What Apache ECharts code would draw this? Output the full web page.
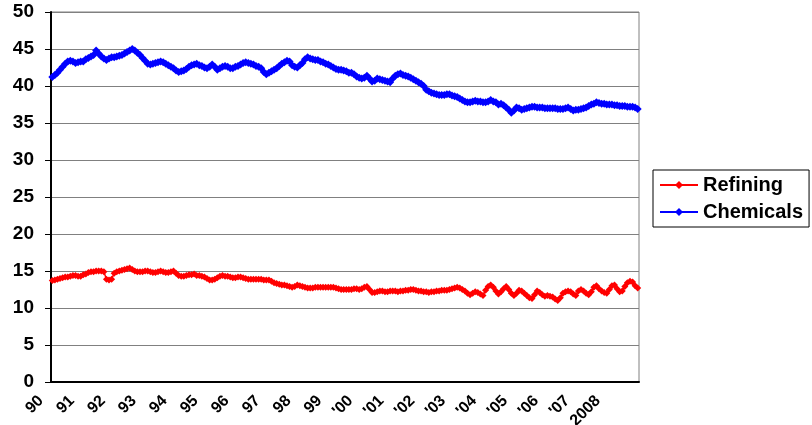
<!DOCTYPE html>
<html>
<head>
<meta charset="utf-8">
<script src="https://cdn.jsdelivr.net/npm/echarts@6/dist/echarts.min.js"></script>
<style>
html,body{margin:0;padding:0;background:#fff;}
#chart{width:812px;height:425px;}
</style>
</head>
<body>
<div id="chart"></div>
<script>
// Monthly observations, Jan 1990 .. Dec 2008
const yearLabels = ['90','91','92','93','94','95','96','97','98','99',"'00","'01","'02","'03","'04","'05","'06","'07",'2008'];

const refining = [
  13.7,13.8,13.9,14.0,14.1,14.2,14.2,14.3,14.4,14.4,14.3,14.3,
  14.5,14.6,14.8,14.9,14.9,15.0,15.0,15.0,14.9,13.9,13.8,13.9,
  14.7,14.9,15.0,15.1,15.2,15.3,15.4,15.2,15.0,14.9,14.9,14.9,
  15.0,15.0,14.9,14.8,14.8,14.9,15.0,14.9,14.8,14.8,14.9,15.0,
  14.7,14.4,14.3,14.3,14.4,14.5,14.5,14.6,14.4,14.4,14.3,14.2,
  14.0,13.8,13.8,13.9,14.1,14.3,14.4,14.3,14.3,14.2,14.1,14.1,
  14.2,14.2,14.1,14.0,13.9,13.9,13.9,13.9,13.9,13.9,13.8,13.8,
  13.8,13.6,13.4,13.3,13.2,13.1,13.1,13.0,12.9,12.8,12.9,13.1,
  13.0,12.9,12.8,12.7,12.7,12.7,12.8,12.8,12.8,12.8,12.8,12.8,
  12.8,12.8,12.7,12.6,12.5,12.5,12.5,12.5,12.5,12.6,12.6,12.5,
  12.6,12.8,12.9,12.5,12.1,12.1,12.2,12.3,12.3,12.2,12.2,12.3,
  12.3,12.3,12.2,12.3,12.3,12.4,12.4,12.5,12.5,12.4,12.3,12.3,
  12.2,12.2,12.1,12.2,12.2,12.3,12.3,12.4,12.4,12.4,12.5,12.6,
  12.7,12.8,12.7,12.5,12.3,12.0,11.8,12.0,12.2,12.1,11.9,11.7,
  12.4,12.9,13.1,12.8,12.3,11.9,12.2,12.6,12.9,12.5,12.0,11.7,
  12.0,12.4,12.3,12.0,11.7,11.4,11.3,11.8,12.3,12.1,11.8,11.6,
  11.7,11.6,11.5,11.2,11.0,11.4,12.0,12.2,12.3,12.2,11.9,11.7,
  12.3,12.5,12.3,12.0,11.8,12.2,12.8,13.0,12.6,12.3,12.1,12.0,
  12.5,13.0,13.1,12.6,12.2,12.3,12.9,13.4,13.6,13.5,13.0,12.7
];

const chemicals = [
  41.2,41.5,41.8,42.2,42.6,43.0,43.3,43.4,43.3,43.1,43.2,43.3,
  43.3,43.6,43.8,44.0,44.2,44.8,44.4,44.0,43.7,43.5,43.7,43.9,
  43.9,44.0,44.1,44.2,44.4,44.6,44.8,45.0,44.8,44.5,44.2,43.8,
  43.4,43.0,42.9,43.0,43.1,43.2,43.3,43.2,43.0,42.8,42.6,42.4,
  42.1,41.9,42.0,42.1,42.3,42.6,42.8,42.9,43.0,42.8,42.7,42.5,
  42.4,42.6,42.9,42.6,42.2,42.4,42.6,42.7,42.6,42.4,42.4,42.6,
  42.7,42.9,43.1,43.2,43.1,43.0,42.9,42.7,42.6,42.4,41.9,41.6,
  41.8,42.0,42.2,42.4,42.7,43.0,43.2,43.4,43.3,42.8,42.6,42.5,
  42.8,43.1,43.6,43.9,43.7,43.6,43.5,43.5,43.3,43.2,43.0,42.9,
  42.7,42.5,42.3,42.2,42.2,42.1,42.0,41.8,41.8,41.6,41.3,41.1,
  41.0,41.1,41.4,41.0,40.6,40.7,41.0,40.9,40.8,40.7,40.6,40.5,
  41.0,41.4,41.6,41.7,41.5,41.4,41.3,41.1,40.9,40.7,40.5,40.3,
  40.0,39.5,39.3,39.1,39.0,38.9,38.8,38.8,38.8,38.9,38.9,38.7,
  38.6,38.5,38.3,38.1,37.9,37.8,37.8,37.9,38.0,37.9,37.9,37.8,
  37.8,37.9,38.1,37.9,37.8,37.5,37.6,37.4,37.1,36.8,36.4,36.7,
  37.1,37.0,36.8,36.9,37.0,37.1,37.2,37.2,37.1,37.1,37.1,37.0,
  37.0,37.0,37.0,37.0,36.9,36.9,36.9,37.0,37.1,36.9,36.7,36.8,
  36.8,36.9,37.0,37.1,37.3,37.5,37.6,37.8,37.7,37.6,37.6,37.5,
  37.5,37.5,37.4,37.4,37.3,37.3,37.3,37.2,37.2,37.2,37.1,36.9
];

const months = [];
for (let y = 0; y < yearLabels.length; y++) {
  for (let m = 1; m <= 12; m++) months.push((1990 + y) + '-' + (m < 10 ? '0' + m : m));
}

const FONT = 'Arial, "Liberation Sans", sans-serif';
const chart = echarts.init(document.getElementById('chart'));
chart.setOption({
  animation: false,
  backgroundColor: '#ffffff',
  grid: { left: 51, right: 173, top: 12, bottom: 43, show: true, borderColor: '#808080', borderWidth: 1,
          containLabel: false, outerBoundsMode: 'none' },
  legend: {
    orient: 'vertical',
    left: 653, top: 170,
    borderColor: '#000', borderWidth: 1,
    padding: [5, 6, 5, 6],
    itemGap: 7,
    itemWidth: 38, itemHeight: 10,
    textStyle: { fontFamily: FONT, fontWeight: 'bold', fontSize: 20, color: '#000' },
    data: ['Refining', 'Chemicals']
  },
  xAxis: {
    type: 'category',
    data: months,
    boundaryGap: true,
    axisLine: { lineStyle: { color: '#000', width: 2 } },
    axisTick: { interval: 0, length: 4, lineStyle: { color: '#000', width: 1 } },
    axisLabel: {
      interval: 11, rotate: 45, margin: 5, padding: [0, 16, 0, 0],
      fontFamily: FONT, fontWeight: 'bold', fontSize: 16, color: '#000',
      formatter: function (v, i) { return yearLabels[Math.floor(i / 12)]; }
    },
    splitLine: { show: false }
  },
  yAxis: {
    type: 'value', min: 0, max: 50, interval: 5,
    axisLine: { show: true, lineStyle: { color: '#000', width: 2 } },
    axisTick: { show: true, length: 6, lineStyle: { color: '#000' } },
    axisLabel: { fontFamily: FONT, fontWeight: 'bold', fontSize: 19, color: '#000', margin: 17 },
    splitLine: { lineStyle: { color: '#808080', width: 1 } }
  },
  series: [
    {
      name: 'Refining', type: 'line', data: refining,
      symbol: 'diamond', symbolSize: 7, showAllSymbol: true,
      lineStyle: { color: '#ff0000', width: 1.5 },
      itemStyle: { color: '#ff0000' }
    },
    {
      name: 'Chemicals', type: 'line', data: chemicals,
      symbol: 'diamond', symbolSize: 8, showAllSymbol: true,
      lineStyle: { color: '#0000ff', width: 3 },
      itemStyle: { color: '#0000ff' }
    }
  ]
});
</script>
</body>
</html>
